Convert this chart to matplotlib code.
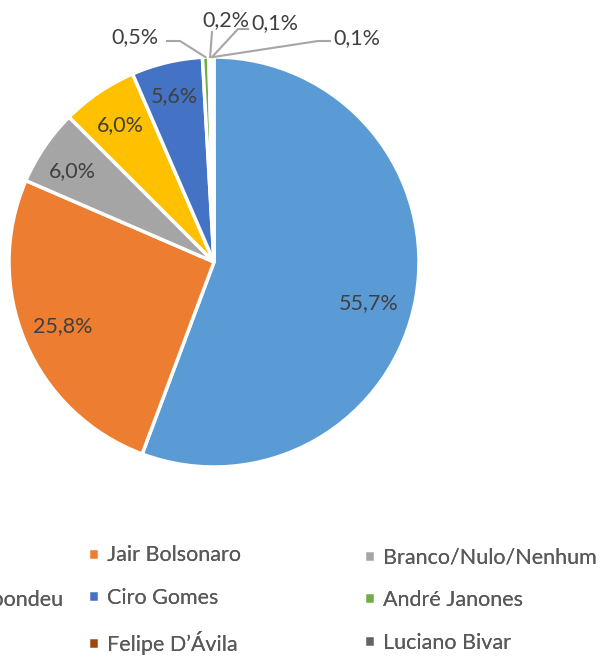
import matplotlib.pyplot as plt
import numpy as np

plt.rcParams['font.family'] = ['Lato', 'DejaVu Sans']

candidatos = ['Lula', 'Jair Bolsonaro', 'Branco/Nulo/Nenhum',
              'Não sabe/Não respondeu', 'Ciro Gomes', 'André Janones',
              'Simone Tebet', 'Felipe D\u2019Ávila', 'Luciano Bivar']
valores = [55.7, 25.8, 6.0, 6.0, 5.6, 0.5, 0.2, 0.1, 0.1]
rotulos = ['55,7%', '25,8%', '6,0%', '6,0%', '5,6%', '0,5%', '0,2%', '0,1%', '0,1%']
cores = ['#5B9BD5', '#ED7D31', '#A5A5A5', '#FFC000', '#4472C4',
         '#70AD47', '#255E91', '#9E480E', '#636363']

W, H = 600, 657
cx, cy, R = 214, 262, 205   # centro e raio da pizza em pixels
fs = 15.5

fig = plt.figure(figsize=(W / 100, H / 100), dpi=100)
ax = fig.add_axes([(cx - R) / W, (H - cy - R) / H, 2 * R / W, 2 * R / H])

wedges, _ = ax.pie(valores, colors=cores, startangle=90, counterclock=False,
                   wedgeprops=dict(edgecolor='white', linewidth=2.5))
ax.set_xlim(-1, 1)
ax.set_ylim(-1, 1)
ax.set_aspect('equal')
ax.axis('off')

cor_texto = '#404040'
cor_linha = '#A6A6A6'

def px2data(px, py):
    return (px - cx) / R, (cy - py) / R

# rotulos internos (distancia, ajuste de angulo)
ajuste = [(0.78, -4.5), (0.8, 0), (0.82, 1.5), (0.81, 0), (0.83, 0)]
for i in range(5):
    w = wedges[i]
    d, da = ajuste[i]
    ang = np.deg2rad((w.theta1 + w.theta2) / 2 + da)
    ax.text(d * np.cos(ang), d * np.sin(ang), rotulos[i],
            ha='center', va='center', fontsize=fs, color=cor_texto)

# rotulos externos com linhas de chamada
pos_txt = [(135, 37), (226, 20), (275, 23), (357, 38)]
quebra = [[(167, 41), (180, 41)], [(212, 32)], [(248, 29), (238, 29)],
          [(330, 41), (318, 41)]]
for k, i in enumerate(range(5, 9)):
    w = wedges[i]
    ang = np.deg2rad((w.theta1 + w.theta2) / 2)
    tx, ty = px2data(*pos_txt[k])
    ax.text(tx, ty, rotulos[i], ha='center', va='center', fontsize=fs,
            color=cor_texto, clip_on=False)
    pts = [px2data(*p) for p in quebra[k]] + [(np.cos(ang), np.sin(ang))]
    xs, ys = zip(*pts)
    ax.plot(xs, ys, color=cor_linha, linewidth=1.5, clip_on=False)

# legenda: 3 colunas de largura igual (ordem por linha, como no Excel)
colunas = [[0, 3, 6], [1, 4, 7], [2, 5, 8]]
ancoras = [(63 / W, 'center right'), (88 / W, 'center left'), (364 / W, 'center left')]
y_meio = (H - 600) / H
for idx, (ax_x, loc) in zip(colunas, ancoras):
    leg = fig.legend([wedges[i] for i in idx], [candidatos[i] for i in idx],
                     loc=loc, bbox_to_anchor=(ax_x, y_meio),
                     frameon=False, fontsize=fs, labelcolor='#595959',
                     handlelength=0.5, handleheight=0.5, handletextpad=0.4,
                     labelspacing=1.05, borderpad=0, borderaxespad=0)
    fig.add_artist(leg)

fig.savefig('out.png', dpi=100)
